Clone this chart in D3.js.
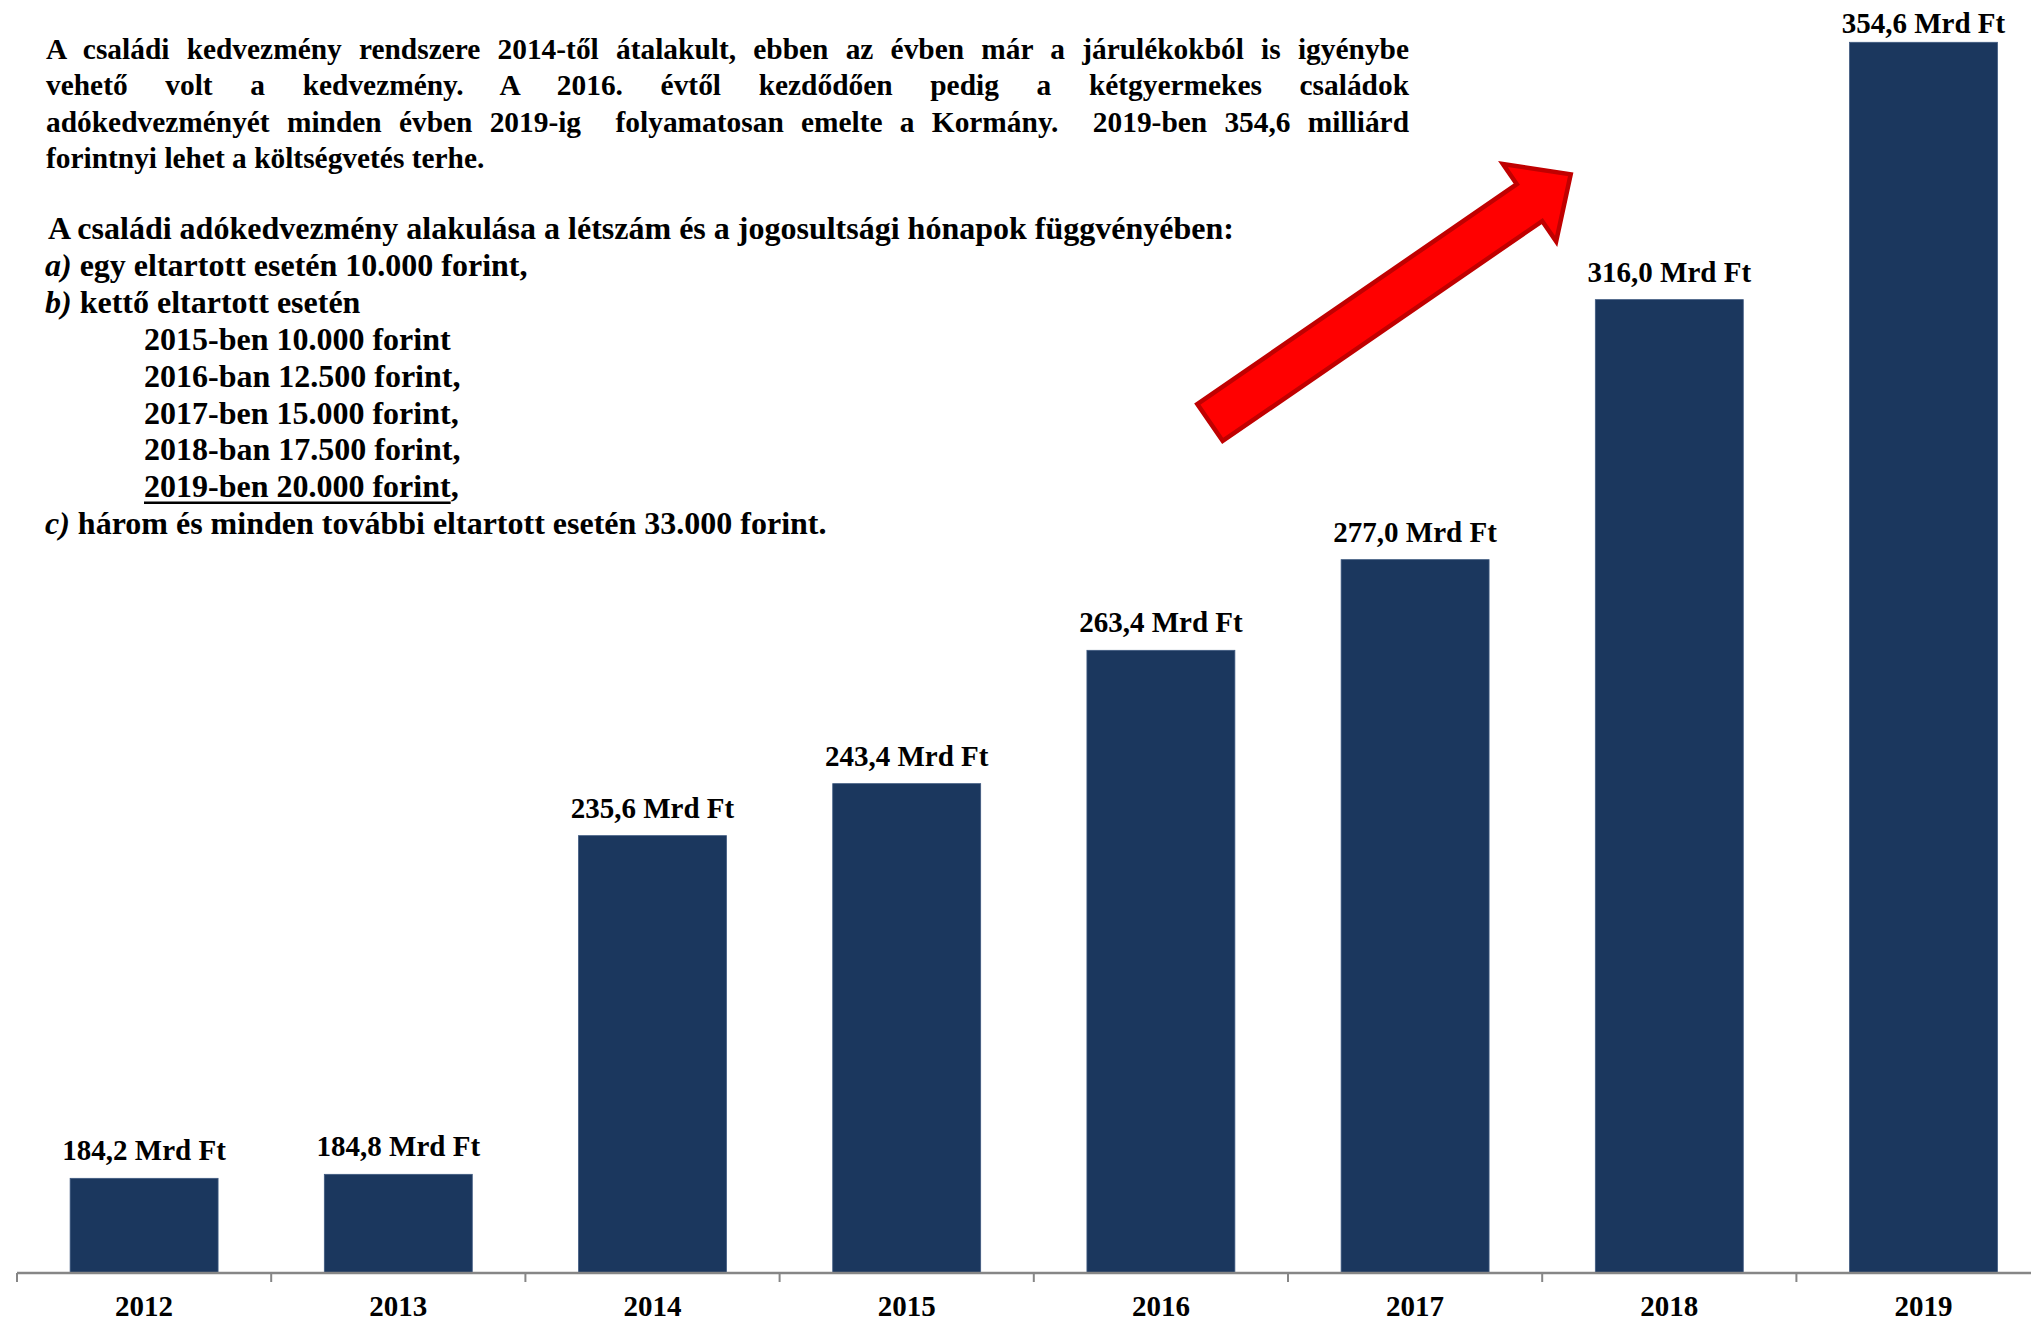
<!DOCTYPE html>
<html>
<head>
<meta charset="utf-8">
<script src="https://cdn.jsdelivr.net/npm/d3@7"></script>
<style>
  body { margin: 0; background: #fff; }
  text { font-family: "Liberation Serif", "Times New Roman", serif; font-weight: bold; fill: #000; white-space: pre; }
</style>
</head>
<body>
<div id="chart"></div>
<script>
// data
const years = ["2012", "2013", "2014", "2015", "2016", "2017", "2018", "2019"];
const costs = [184.2, 184.8, 235.6, 243.4, 263.4, 277.0, 316.0, 354.6];
const unit = " Mrd Ft";

const introLines = [
    "A családi kedvezmény rendszere 2014-től átalakult, ebben az évben már a járulékokból is igyénybe",
    "vehető volt a kedvezmény. A 2016. évtől kezdődően pedig a kétgyermekes családok",
    "adókedvezményét minden évben 2019-ig  folyamatosan emelte a Kormány.  2019-ben 354,6 milliárd",
    "forintnyi lehet a költségvetés terhe."
];
// [italic prefix, text, indent level, underlined part]
const detailLines = [
    ["", "A családi adókedvezmény alakulása a létszám és a jogosultsági hónapok függvényében:", 0],
    ["a)", " egy eltartott esetén 10.000 forint,", 0],
    ["b)", " kettő eltartott esetén", 0],
    ["", "2015-ben 10.000 forint", 1],
    ["", "2016-ban 12.500 forint,", 1],
    ["", "2017-ben 15.000 forint,", 1],
    ["", "2018-ban 17.500 forint,", 1],
    ["", ",", 1, "2019-ben 20.000 forint"],
    ["c)", " három és minden további eltartott esetén 33.000 forint.", 0]
];

const W = 2031, H = 1321;
const axisY = 1273;

const svg = d3.select("#chart").append("svg")
    .attr("width", W)
    .attr("height", H);

// scales
const x = d3.scaleBand()
    .domain(years)
    .range([17, 17 + years.length * 254.2])
    .paddingInner(0.418)
    .paddingOuter(0.209);

const y = d3.scaleLinear()
    .domain([170, 360])
    .range([axisY, 6.3]);

// bars
svg.append("g")
    .selectAll("rect")
    .data(costs)
    .enter().append("rect")
    .attr("x", (d, i) => x(years[i]))
    .attr("y", d => y(d))
    .attr("width", x.bandwidth())
    .attr("height", d => axisY - y(d))
    .attr("fill", "#1b375e")
    .attr("stroke", "#3f5a80")
    .attr("stroke-width", 0.8);

// value labels
svg.append("g")
    .selectAll("text")
    .data(costs)
    .enter().append("text")
    .attr("x", (d, i) => x(years[i]) + x.bandwidth() / 2)
    .attr("y", d => Math.max(y(d) - 18, 33))
    .attr("text-anchor", "middle")
    .style("font-size", "29px")
    .text(d => d.toFixed(1).replace(".", ",") + unit);

// axis: line + ticks on the category boundaries
const gap = (x.step() - x.bandwidth()) / 2;
svg.append("line")
    .attr("x1", x(years[0]) - gap).attr("x2", W)
    .attr("y1", axisY).attr("y2", axisY)
    .attr("stroke", "#868686").attr("stroke-width", 2.5);

svg.append("g")
    .selectAll("line")
    .data(years)
    .enter().append("line")
    .attr("x1", d => x(d) - gap).attr("x2", d => x(d) - gap)
    .attr("y1", axisY).attr("y2", axisY + 9)
    .attr("stroke", "#868686").attr("stroke-width", 2);

const xAxis = svg.append("g")
    .attr("transform", "translate(0," + axisY + ")")
    .call(d3.axisBottom(x).tickSize(0).tickPadding(22));
xAxis.select(".domain").remove();
xAxis.selectAll("text")
    .style("font-size", "29px")
    .style("font-family", '"Liberation Serif", serif')
    .style("font-weight", "bold")
    .attr("fill", "#000");

// intro paragraph, justified except the last line
const introG = svg.append("g");
introLines.forEach((line, i) => {
    const t = introG.append("text")
        .attr("x", 46)
        .attr("y", 58.5 + i * 36.6)
        .style("font-size", "29.4px")
        .text(line);
    if (i < introLines.length - 1) {
        const natural = t.node().getComputedTextLength();
        const spaces = (line.match(/ /g) || []).length;
        t.style("word-spacing", ((1409 - 46 - natural) / spaces) + "px");
    }
});

// detail list
const detailG = svg.append("g");
detailLines.forEach((d, i) => {
    const ty = 239 + i * 36.9;
    const t = detailG.append("text")
        .attr("x", d[2] ? 144 : (i === 0 ? 48 : 45))
        .attr("y", ty)
        .style("font-size", "32px");
    if (d[0]) t.append("tspan").style("font-style", "italic").text(d[0]);
    if (d[3]) {
        const u = t.append("tspan").text(d[3]);
        const len = u.node().getComputedTextLength();
        detailG.append("line")
            .attr("x1", 144).attr("x2", 144 + len)
            .attr("y1", ty + 5.5).attr("y2", ty + 5.5)
            .attr("stroke", "#000").attr("stroke-width", 2.5);
    }
    t.append("tspan").text(d[1]);
});

// red arrow
const tail = [1210, 422.5], tip = [1570.7, 174.3];
const dx = tip[0] - tail[0], dy = tip[1] - tail[1];
const len = Math.hypot(dx, dy);
const ux = dx / len, uy = dy / len, nx = -uy, ny = ux;
const shaftHalf = 22.4, headHalf = 47, headLen = 50;
const bx = tip[0] - ux * headLen, by = tip[1] - uy * headLen;
const arrowPts = [
    [tail[0] - nx * shaftHalf, tail[1] - ny * shaftHalf],
    [bx - nx * shaftHalf, by - ny * shaftHalf],
    [bx - nx * headHalf, by - ny * headHalf],
    tip,
    [bx + nx * headHalf, by + ny * headHalf],
    [bx + nx * shaftHalf, by + ny * shaftHalf],
    [tail[0] + nx * shaftHalf, tail[1] + ny * shaftHalf]
];
svg.append("polygon")
    .attr("points", arrowPts.map(p => p.join(",")).join(" "))
    .attr("fill", "#ff0000")
    .attr("stroke", "#c00000")
    .attr("stroke-width", 4.5)
    .attr("stroke-linejoin", "miter");
</script>
</body>
</html>
